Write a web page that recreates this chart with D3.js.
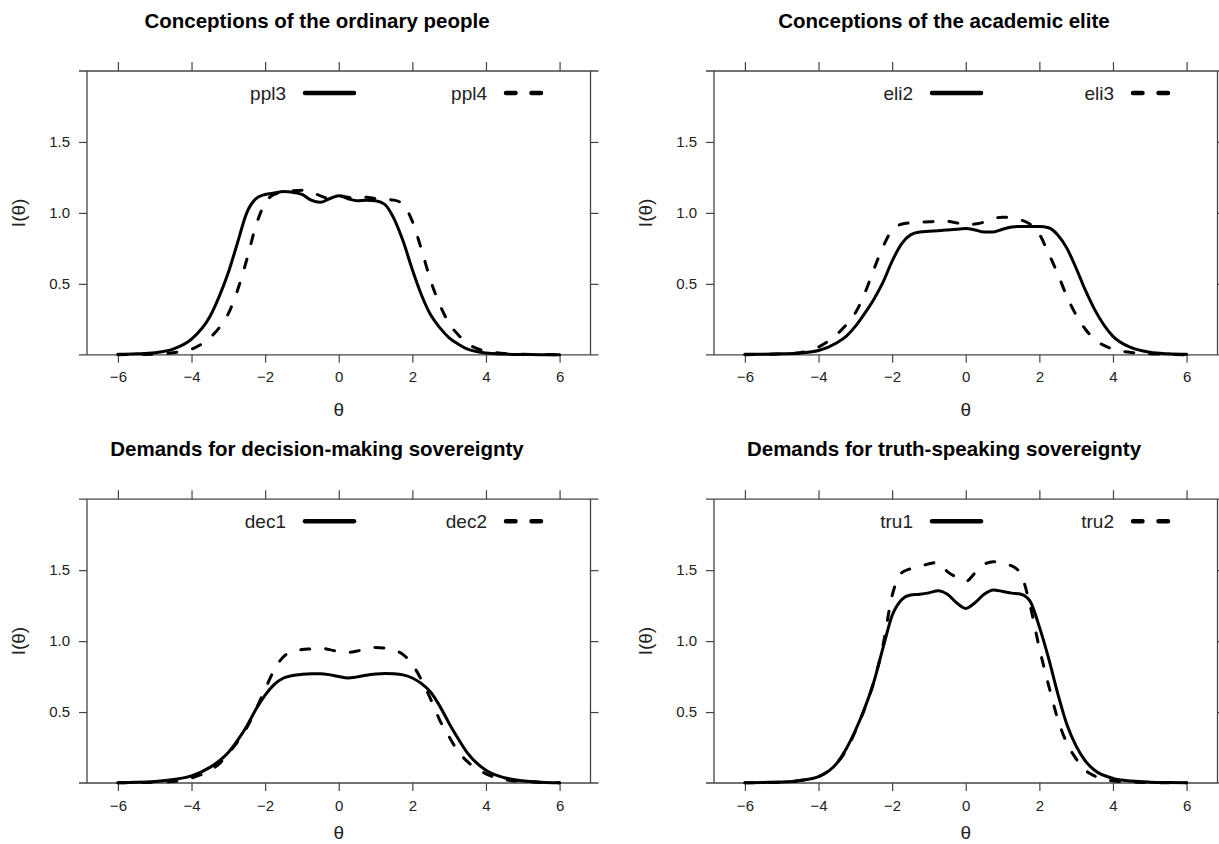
<!DOCTYPE html>
<html>
<head>
<meta charset="utf-8">
<script src="https://cdn.jsdelivr.net/npm/d3@7"></script>
<style>
  body { margin: 0; background: #fff; }
  svg text { font-family: "Liberation Sans", Arial, sans-serif; }
</style>
</head>
<body>
<svg id="chart" width="1219" height="844"></svg>
<script>
// shared theta grid
const theta = [-6, -5.5, -5, -4.5, -4, -3.5, -3.25, -3, -2.75, -2.5, -2.25, -2, -1.75, -1.5, -1.25, -1, -0.75, -0.5, -0.25,
  0, 0.25, 0.5, 0.75, 1, 1.25, 1.5, 1.75, 2, 2.25, 2.5, 2.75, 3, 3.25, 3.5, 4, 4.5, 5, 5.5, 6];

const ppl3 = [0.003, 0.007, 0.015, 0.04, 0.11, 0.27, 0.41, 0.58, 0.79, 1.0, 1.10, 1.13, 1.14, 1.15, 1.145, 1.13, 1.09, 1.075, 1.10,
  1.12, 1.10, 1.085, 1.09, 1.085, 1.06, 0.96, 0.80, 0.60, 0.42, 0.28, 0.19, 0.12, 0.075, 0.04, 0.013, 0.005, 0.002, 0.001, 0.001];
const ppl4 = [0.001, 0.002, 0.005, 0.015, 0.04, 0.12, 0.19, 0.29, 0.455, 0.67, 0.91, 1.07, 1.13, 1.145, 1.155, 1.16, 1.15, 1.12, 1.10,
  1.12, 1.11, 1.10, 1.11, 1.10, 1.095, 1.09, 1.06, 0.94, 0.74, 0.52, 0.35, 0.22, 0.14, 0.08, 0.025, 0.01, 0.004, 0.002, 0.001];

const eli2 = [0.003, 0.004, 0.007, 0.013, 0.03, 0.085, 0.13, 0.2, 0.29, 0.39, 0.51, 0.66, 0.78, 0.845, 0.865, 0.87, 0.875, 0.88, 0.885,
  0.89, 0.88, 0.865, 0.865, 0.885, 0.9, 0.905, 0.905, 0.905, 0.895, 0.845, 0.75, 0.61, 0.455, 0.32, 0.13, 0.05, 0.018, 0.007, 0.003];
const eli3 = [0.001, 0.003, 0.006, 0.015, 0.055, 0.145, 0.21, 0.295, 0.43, 0.6, 0.76, 0.88, 0.92, 0.93, 0.935, 0.937, 0.94, 0.94, 0.93,
  0.915, 0.922, 0.935, 0.96, 0.97, 0.965, 0.95, 0.92, 0.85, 0.715, 0.57, 0.41, 0.28, 0.18, 0.11, 0.04, 0.017, 0.008, 0.003, 0.001];

const dec1 = [0.002, 0.005, 0.011, 0.024, 0.05, 0.11, 0.155, 0.215, 0.3, 0.4, 0.52, 0.62, 0.695, 0.74, 0.758, 0.766, 0.77, 0.77, 0.763,
  0.75, 0.74, 0.748, 0.76, 0.768, 0.772, 0.77, 0.762, 0.74, 0.7, 0.64, 0.54, 0.42, 0.31, 0.21, 0.09, 0.037, 0.016, 0.006, 0.002];
const dec2 = [0.001, 0.003, 0.006, 0.012, 0.035, 0.09, 0.135, 0.21, 0.29, 0.39, 0.52, 0.66, 0.8, 0.89, 0.93, 0.94, 0.945, 0.95, 0.94,
  0.925, 0.92, 0.93, 0.945, 0.955, 0.95, 0.937, 0.905, 0.835, 0.725, 0.59, 0.44, 0.325, 0.22, 0.15, 0.065, 0.025, 0.01, 0.004, 0.001];

const tru1 = [0.002, 0.004, 0.007, 0.018, 0.045, 0.14, 0.24, 0.37, 0.525, 0.71, 0.95, 1.18, 1.29, 1.325, 1.33, 1.34, 1.355, 1.33, 1.27,
  1.23, 1.27, 1.33, 1.36, 1.35, 1.338, 1.33, 1.28, 1.1, 0.88, 0.63, 0.41, 0.26, 0.155, 0.09, 0.033, 0.014, 0.006, 0.003, 0.002];
const tru2 = [0.001, 0.003, 0.006, 0.017, 0.045, 0.14, 0.23, 0.365, 0.52, 0.71, 0.97, 1.32, 1.48, 1.51, 1.525, 1.545, 1.555, 1.49, 1.45,
  1.42, 1.48, 1.54, 1.56, 1.545, 1.53, 1.47, 1.25, 0.95, 0.69, 0.45, 0.28, 0.17, 0.09, 0.05, 0.015, 0.006, 0.003, 0.002, 0.001];

const titles = [
  "Conceptions of the ordinary people",
  "Conceptions of the academic elite",
  "Demands for decision-making sovereignty",
  "Demands for truth-speaking sovereignty",
];
const seriesNames = [["ppl3", "ppl4"], ["eli2", "eli3"], ["dec1", "dec2"], ["tru1", "tru2"]];
const seriesValues = [[ppl3, ppl4], [eli2, eli3], [dec1, dec2], [tru1, tru2]];

const xTicks = [-6, -4, -2, 0, 2, 4, 6];
const yTicks = [0.5, 1.0, 1.5];

const svg = d3.select("#chart");
const W = 503.5;
const H = 283.8;
const ORIGINS = [[87, 71], [714, 71], [87, 499.2], [714, 499.2]];
const AXIS_COL = "#444";
const TEXT_COL = "#222";

const drawPanel = ( i ) => {
  const [x0, y0] = ORIGINS[i];
  const g = svg.append("g");

  const x = d3.scaleLinear().domain([-6.84, 6.84]).range([x0, x0 + W]);
  const y = d3.scaleLinear().domain([0, 2]).range([y0 + H, y0]);
  const fmt = d3.format(".1f");

  // axes
  const bottom = g.append("g").attr("transform", `translate(0,${y0 + H})`)
    .call(d3.axisBottom(x).tickValues(xTicks).tickSize(8).tickSizeOuter(0).tickPadding(9));
  const top = g.append("g").attr("transform", `translate(0,${y0})`)
    .call(d3.axisTop(x).tickValues(xTicks).tickSize(9).tickSizeOuter(0).tickFormat(""));
  const left = g.append("g").attr("transform", `translate(${x0},0)`)
    .call(d3.axisLeft(y).tickValues(yTicks).tickSize(8).tickSizeOuter(0).tickPadding(9).tickFormat(fmt));
  const right = g.append("g").attr("transform", `translate(${x0 + W},0)`)
    .call(d3.axisRight(y).tickValues(yTicks).tickSize(8).tickSizeOuter(0).tickFormat(""));

  [bottom, top, left, right].forEach(a => {
    a.select(".domain").remove();
    a.selectAll("line").attr("stroke", AXIS_COL).attr("stroke-width", 1.2);
    a.selectAll("text").attr("fill", TEXT_COL).style("font-size", "15px")
      .style("font-family", "'Liberation Sans', Arial, sans-serif");
  });

  // frame: horizontal lines run past the box a little
  g.append("line").attr("x1", x0 - 8).attr("x2", x0 + W + 8).attr("y1", y0).attr("y2", y0)
    .attr("stroke", AXIS_COL).attr("stroke-width", 1.3);
  g.append("line").attr("x1", x0 - 8).attr("x2", x0 + W + 8).attr("y1", y0 + H).attr("y2", y0 + H)
    .attr("stroke", AXIS_COL).attr("stroke-width", 1.3);
  g.append("line").attr("x1", x0).attr("x2", x0).attr("y1", y0).attr("y2", y0 + H)
    .attr("stroke", AXIS_COL).attr("stroke-width", 1.3);
  g.append("line").attr("x1", x0 + W).attr("x2", x0 + W).attr("y1", y0).attr("y2", y0 + H)
    .attr("stroke", AXIS_COL).attr("stroke-width", 1.3);

  // curves
  const line = d3.line().x(d => x(d[0])).y(d => y(d[1])).curve(d3.curveMonotoneX);
  seriesValues[i].forEach((vals, k) => {
    g.append("path")
      .datum(theta.map((t, j) => [t, vals[j]]))
      .attr("d", line)
      .attr("fill", "none")
      .attr("stroke", "#000")
      .attr("stroke-width", 3)
      .attr("stroke-linecap", "round")
      .attr("stroke-linejoin", "round")
      .attr("stroke-dasharray", k === 1 ? "9,16" : null);
  });

  // legend
  const ly = y0 + 22;
  const items = [
    { name: seriesNames[i][0], tx: x0 + 199, lx1: x0 + 218, lx2: x0 + 267, dash: null },
    { name: seriesNames[i][1], tx: x0 + 400, lx1: x0 + 419, lx2: x0 + 454, dash: "9.5,16" },
  ];
  items.forEach(it => {
    g.append("text").attr("x", it.tx).attr("y", ly).attr("dy", "0.35em")
      .attr("text-anchor", "end").attr("fill", TEXT_COL).style("font-size", "19px").text(it.name);
    g.append("line").attr("x1", it.lx1).attr("x2", it.lx2).attr("y1", ly).attr("y2", ly)
      .attr("stroke", "#000").attr("stroke-width", 4.5).attr("stroke-linecap", "round")
      .attr("stroke-dasharray", it.dash);
  });

  // titles and axis labels
  g.append("text").attr("x", x0 + 230).attr("y", y0 - 43).attr("text-anchor", "middle")
    .attr("fill", "#000").style("font-size", "20.5px").style("font-weight", "bold").text(titles[i]);
  g.append("text").attr("x", x0 + W / 2).attr("y", y0 + H + (i < 2 ? 61 : 56)).attr("text-anchor", "middle")
    .attr("fill", TEXT_COL).style("font-size", "19px").text("θ");
  g.append("text").attr("transform", `translate(${x0 - 69},${y0 + H / 2}) rotate(-90)`)
    .attr("text-anchor", "middle").attr("dy", "0.35em")
    .attr("fill", TEXT_COL).style("font-size", "19px").text("I(θ)");
};

d3.range(4).forEach(drawPanel);
</script>
</body>
</html>
